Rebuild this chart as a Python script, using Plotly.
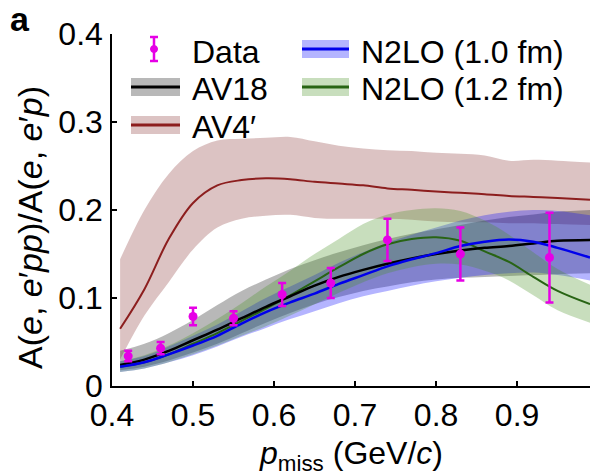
import plotly.graph_objects as go

# ---------------- data ----------------
p_grid = [0.41, 0.44, 0.47, 0.50, 0.53, 0.56, 0.59, 0.62, 0.65, 0.68,
          0.71, 0.74, 0.77, 0.80, 0.83, 0.86, 0.89, 0.92, 0.95, 0.99]

av4_mid = [0.065, 0.110, 0.167, 0.208, 0.228, 0.234, 0.236, 0.235, 0.232, 0.230,
           0.228, 0.2245, 0.223, 0.221, 0.2195, 0.218, 0.216, 0.2148, 0.2135, 0.2117]
av4_hi = [0.144, 0.200, 0.241, 0.267, 0.279, 0.281, 0.282, 0.283, 0.278, 0.273,
          0.270, 0.268, 0.267, 0.265, 0.264, 0.262, 0.256, 0.257, 0.256, 0.254]
av4_lo = [0.030, 0.080, 0.118, 0.155, 0.180, 0.190, 0.1935, 0.1945, 0.191, 0.190,
          0.190, 0.190, 0.189, 0.187, 0.186, 0.186, 0.185, 0.185, 0.184, 0.183]

av18_mid = [0.024, 0.030, 0.040, 0.052, 0.064, 0.077, 0.090, 0.102, 0.114, 0.124,
            0.132, 0.139, 0.145, 0.150, 0.154, 0.157, 0.159, 0.162, 0.165, 0.166]
av18_hi = [0.040, 0.048, 0.060, 0.075, 0.092, 0.108, 0.121, 0.133, 0.143, 0.152,
           0.160, 0.167, 0.173, 0.178, 0.183, 0.188, 0.192, 0.195, 0.198, 0.200]
av18_lo = [0.018, 0.022, 0.029, 0.038, 0.048, 0.060, 0.072, 0.083, 0.093, 0.101,
           0.108, 0.113, 0.118, 0.121, 0.123, 0.124, 0.125, 0.126, 0.127, 0.128]

n2lo10_mid = [0.022, 0.027, 0.036, 0.046, 0.057, 0.071, 0.084, 0.095, 0.105, 0.116,
              0.126, 0.136, 0.144, 0.151, 0.159, 0.164, 0.1665, 0.164, 0.157, 0.146]
n2lo10_hi = [0.028, 0.034, 0.045, 0.057, 0.070, 0.085, 0.100, 0.113, 0.126, 0.140,
             0.152, 0.163, 0.172, 0.180, 0.188, 0.194, 0.198, 0.200, 0.199, 0.194]
n2lo10_lo = [0.016, 0.020, 0.027, 0.035, 0.045, 0.056, 0.066, 0.076, 0.085, 0.094,
             0.102, 0.108, 0.114, 0.119, 0.123, 0.126, 0.128, 0.129, 0.126, 0.120]

n2lo12_mid = [0.022, 0.027, 0.036, 0.048, 0.060, 0.074, 0.088, 0.103, 0.119, 0.135,
              0.150, 0.161, 0.167, 0.169, 0.165, 0.153, 0.141, 0.124, 0.108, 0.093]
n2lo12_hi = [0.028, 0.035, 0.046, 0.060, 0.076, 0.094, 0.113, 0.131, 0.150, 0.167,
             0.184, 0.195, 0.200, 0.202, 0.199, 0.188, 0.172, 0.152, 0.133, 0.115]
n2lo12_lo = [0.016, 0.020, 0.027, 0.036, 0.046, 0.057, 0.068, 0.080, 0.093, 0.106,
             0.118, 0.128, 0.135, 0.139, 0.138, 0.131, 0.120, 0.103, 0.086, 0.072]

data_p = [0.42, 0.46, 0.50, 0.55, 0.61, 0.67, 0.74, 0.83, 0.94]
data_ratio = [0.034, 0.043, 0.079, 0.077, 0.104, 0.117, 0.166, 0.150, 0.146]
data_err = [0.006, 0.007, 0.010, 0.008, 0.013, 0.017, 0.024, 0.030, 0.051]

x_ticks = [0.4, 0.5, 0.6, 0.7, 0.8, 0.9]
x_ticktext = ["0.4", "0.5", "0.6", "0.7", "0.8", "0.9"]
y_ticks = [0, 0.1, 0.2, 0.3, 0.4]
y_ticktext = ["0", "0.1", "0.2", "0.3", "0.4"]

legend_labels = ["Data", "AV18", "AV4\u2032", "N2LO (1.0 fm)", "N2LO (1.2 fm)"]

# ---------------- style ----------------
FONT = "Liberation Sans, Arial, Helvetica, sans-serif"
FS = 32
C_AV4_LINE = "rgb(140,30,30)"
C_AV4_BAND = "rgba(138,55,55,0.30)"
C_AV18_LINE = "rgb(0,0,0)"
C_AV18_BAND = "rgba(0,0,0,0.28)"
C_N10_LINE = "rgb(0,0,235)"
C_N10_BAND = "rgba(5,5,255,0.30)"
C_N12_LINE = "rgb(40,100,20)"
C_N12_BAND = "rgba(72,145,38,0.30)"
C_DATA = "rgb(230,0,230)"

fig = go.Figure()


def add_band(lo, hi, color):
    fig.add_trace(go.Scatter(x=p_grid, y=lo, mode="lines", line=dict(width=0, shape="spline"),
                             hoverinfo="skip", showlegend=False))
    fig.add_trace(go.Scatter(x=p_grid, y=hi, mode="lines", line=dict(width=0, shape="spline"),
                             fill="tonexty", fillcolor=color, hoverinfo="skip", showlegend=False))


def add_line(mid, color, width):
    fig.add_trace(go.Scatter(x=p_grid, y=mid, mode="lines",
                             line=dict(color=color, width=width, shape="spline"),
                             showlegend=False))


add_band(av4_lo, av4_hi, C_AV4_BAND)
add_band(av18_lo, av18_hi, C_AV18_BAND)
add_band(n2lo10_lo, n2lo10_hi, C_N10_BAND)
add_band(n2lo12_lo, n2lo12_hi, C_N12_BAND)
add_line(av4_mid, C_AV4_LINE, 2)
add_line(n2lo12_mid, C_N12_LINE, 2)
add_line(av18_mid, C_AV18_LINE, 2.5)
add_line(n2lo10_mid, C_N10_LINE, 2.5)

fig.add_trace(go.Scatter(
    x=data_p, y=data_ratio, mode="markers",
    marker=dict(color=C_DATA, size=9),
    error_y=dict(type="data", array=data_err, color=C_DATA, thickness=2.5, width=4),
    showlegend=False))

# ---------------- manual legend (paper coords) ----------------
L, R, T, B = 112, 590, 34, 386


def px(X):
    return (X - L) / (R - L)


def py(Y):
    return (B - Y) / (B - T)


shapes = []
# Data symbol
shapes.append(dict(type="line", xref="paper", yref="paper", x0=px(154), x1=px(154), y0=py(37), y1=py(61),
                   line=dict(color=C_DATA, width=2.5)))
for yy in (37, 61):
    shapes.append(dict(type="line", xref="paper", yref="paper", x0=px(150), x1=px(158), y0=py(yy), y1=py(yy),
                       line=dict(color=C_DATA, width=2.5)))
shapes.append(dict(type="circle", xref="paper", yref="paper", x0=px(150.5), x1=px(157.5), y0=py(52.5), y1=py(45.5),
                   fillcolor=C_DATA, line=dict(color=C_DATA, width=1)))


def band_symbol(x0, x1, yc, band, line):
    shapes.append(dict(type="rect", xref="paper", yref="paper", x0=px(x0), x1=px(x1),
                       y0=py(yc + 9), y1=py(yc - 9), fillcolor=band, line=dict(width=0)))
    shapes.append(dict(type="line", xref="paper", yref="paper", x0=px(x0), x1=px(x1),
                       y0=py(yc), y1=py(yc), line=dict(color=line, width=3)))


band_symbol(131, 180, 87, C_AV18_BAND, C_AV18_LINE)
band_symbol(131, 180, 125, C_AV4_BAND, C_AV4_LINE)
band_symbol(302, 349, 49, C_N10_BAND, C_N10_LINE)
band_symbol(302, 349, 87, C_N12_BAND, C_N12_LINE)

annotations = []
for lab, X, Y in zip(legend_labels, [190, 190, 190, 359, 359], [52, 89, 127, 52, 89]):
    annotations.append(dict(text=lab, xref="paper", yref="paper", x=px(X), y=py(Y),
                            xanchor="left", yanchor="middle", showarrow=False,
                            font=dict(family=FONT, size=FS, color="black")))

annotations.append(dict(text="<b>a</b>", xref="paper", yref="paper", x=px(20), y=py(19),
                        xanchor="center", yanchor="middle", showarrow=False,
                        font=dict(family=FONT, size=34, color="black")))
annotations.append(dict(text="A(<i>e</i>, <i>e</i>\u2032<i>pp</i>)/A(<i>e</i>, <i>e</i>\u2032<i>p</i>)",
                        xref="paper", yref="paper", x=px(30), y=py(228), textangle=-90,
                        xanchor="center", yanchor="middle", showarrow=False,
                        font=dict(family=FONT, size=34, color="black")))
annotations.append(dict(text="<i>p</i><sub>miss</sub> (GeV/<i>c</i>)",
                        xref="paper", yref="paper", x=px(351), y=py(456),
                        xanchor="center", yanchor="middle", showarrow=False,
                        font=dict(family=FONT, size=FS, color="black")))

fig.update_layout(
    width=590, height=475,
    margin=dict(l=L, r=590 - R, t=T, b=475 - B, pad=0),
    paper_bgcolor="white", plot_bgcolor="white",
    showlegend=False,
    font=dict(family=FONT, size=FS, color="black"),
    shapes=shapes, annotations=annotations,
    xaxis=dict(range=[0.4, 0.99], tickvals=x_ticks, ticktext=x_ticktext,
               ticks="inside", ticklen=5, tickwidth=1.5, tickcolor="black",
               showline=True, linecolor="black", linewidth=1.5, showgrid=False, zeroline=False,
               tickfont=dict(family=FONT, size=FS), ticklabelstandoff=0, automargin=False),
    yaxis=dict(range=[0, 0.4], tickvals=y_ticks, ticktext=y_ticktext,
               ticks="inside", ticklen=5, tickwidth=1.5, tickcolor="black",
               showline=True, linecolor="black", linewidth=1.5, showgrid=False, zeroline=False,
               tickfont=dict(family=FONT, size=FS), ticklabelstandoff=1, automargin=False),
)

fig.write_html("out.html", config={"displayModeBar": False},
               post_script="document.body.style.margin='0px';")
